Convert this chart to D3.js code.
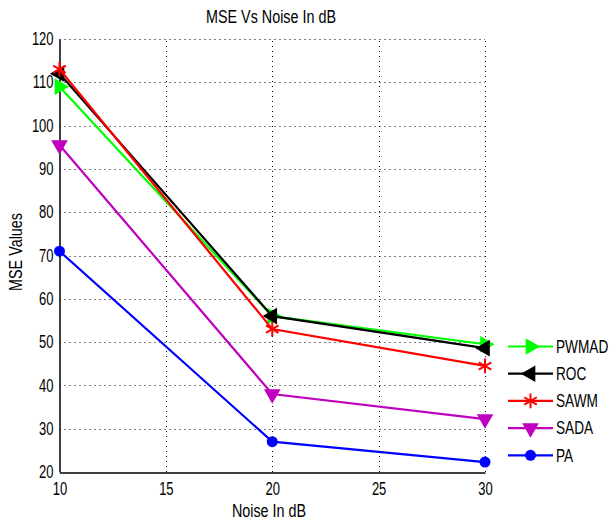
<!DOCTYPE html>
<html>
<head>
<meta charset="utf-8">
<script src="https://cdnjs.cloudflare.com/ajax/libs/d3/7.8.5/d3.min.js"></script>
<style>
  body { margin: 0; background: #fff; }
  text { font-family: "Liberation Sans", Arial, Helvetica, sans-serif; fill: #000; }
</style>
</head>
<body>
<div id="chart"></div>
<script>
// data
const noise = [10, 20, 30];
const pwmad = [109, 56, 49.5];
const roc = [112, 56, 48.6];
const sawm = [113, 53, 44.5];
const sada = [95.5, 38, 32.2];
const pa = [71, 27, 22.3];

const xTicks = [10, 15, 20, 25, 30];
const yTicks = [20, 30, 40, 50, 60, 70, 80, 90, 100, 110, 120];

const series = [
  {name: 'PWMAD', values: pwmad, color: '#00ff00', marker: 'right'},
  {name: 'ROC', values: roc, color: '#000000', marker: 'left'},
  {name: 'SAWM', values: sawm, color: '#ff0000', marker: 'star'},
  {name: 'SADA', values: sada, color: '#bf00bf', marker: 'down'},
  {name: 'PA', values: pa, color: '#0000ff', marker: 'circle'}
];

const W = 614, H = 527;
const m = {left: 59.5, right: 129, top: 39, bottom: 55};

const svg = d3.select('#chart').append('svg')
  .attr('width', W).attr('height', H);

const x = d3.scaleLinear().domain([10, 30]).range([m.left, W - m.right]);
const y = d3.scaleLinear().domain([20, 120]).range([H - m.bottom, m.top]);

// squeeze text horizontally, the original font is a narrow one
function narrow(sel, f) {
  sel.each(function() {
    const w = this.getComputedTextLength();
    d3.select(this).attr('textLength', w * f).attr('lengthAdjust', 'spacingAndGlyphs');
  });
}

// grid
const grid = svg.append('g').attr('class', 'grid')
  .attr('stroke', '#000').attr('stroke-width', 1).attr('stroke-dasharray', '1,4');
grid.selectAll('line.gx').data(xTicks.slice(1)).enter().append('line')
  .attr('x1', d => Math.round(x(d)) + 0.5).attr('x2', d => Math.round(x(d)) + 0.5)
  .attr('y1', y(20)).attr('y2', y(120));
grid.selectAll('line.gy').data(yTicks.slice(1)).enter().append('line')
  .attr('y1', d => Math.round(y(d)) + 0.5).attr('y2', d => Math.round(y(d)) + 0.5)
  .attr('x1', x(10)).attr('x2', x(30));

// axes
const xAxis = svg.append('g')
  .attr('transform', `translate(0,${Math.round(y(20)) + 0.5})`)
  .call(d3.axisBottom(x).tickValues(xTicks).tickSize(0).tickPadding(7));
const yAxis = svg.append('g')
  .attr('transform', `translate(${Math.round(x(10)) - 0.5},0)`)
  .call(d3.axisLeft(y).tickValues(yTicks).tickSize(0).tickPadding(6));
[xAxis, yAxis].forEach(a => {
  a.select('.domain').attr('stroke', '#000').attr('stroke-width', 1.5);
  a.selectAll('text').style('font-size', '17.5px')
    .style('font-family', '"Liberation Sans", Arial, sans-serif');
  narrow(a.selectAll('text'), 0.74);
});
xAxis.selectAll('text').attr('dy', '0.9em');

// markers
function drawMarker(g, type, color) {
  if (type === 'circle') {
    g.append('circle').attr('r', 5.5).attr('fill', color);
  } else if (type === 'star') {
    g.append('path').attr('d', d3.symbol(d3.symbolAsterisk, 150)())
      .attr('fill', 'none').attr('stroke', color).attr('stroke-width', 2);
  } else {
    const rot = {right: 90, left: -90, down: 180}[type];
    g.append('path').attr('d', d3.symbol(d3.symbolTriangle, 120)())
      .attr('transform', `rotate(${rot})`).attr('fill', color);
  }
}

const line = d3.line().x((d, i) => x(noise[i])).y(d => y(d));

series.forEach(s => {
  const g = svg.append('g');
  g.append('path').datum(s.values).attr('d', line)
    .attr('fill', 'none').attr('stroke', s.color).attr('stroke-width', 2.2);
  s.values.forEach((v, i) => {
    drawMarker(g.append('g').attr('transform', `translate(${x(noise[i])},${y(v)})`), s.marker, s.color);
  });
});

// legend
const leg = svg.append('g');
series.forEach((s, i) => {
  const yy = 346.5 + i * 27.2;
  const g = leg.append('g').attr('transform', `translate(0,${yy})`);
  g.append('line').attr('x1', 508).attr('x2', 553).attr('stroke', s.color).attr('stroke-width', 2.2);
  drawMarker(g.append('g').attr('transform', 'translate(530.5,0)'), s.marker, s.color);
  g.append('text').attr('transform', 'translate(556,0) scale(0.78,1)')
    .attr('dy', '0.36em').style('font-size', '17.5px').text(s.name);
});

// titles
svg.append('text').attr('x', 271).attr('y', 23).attr('text-anchor', 'middle')
  .style('font-size', '17.5px').text('MSE Vs Noise In dB').call(narrow, 0.82);
svg.append('text').attr('x', 269).attr('y', 517).attr('text-anchor', 'middle')
  .style('font-size', '17.5px').text('Noise In dB').call(narrow, 0.82);
svg.append('text').attr('transform', `translate(22,${252}) rotate(-90)`).attr('text-anchor', 'middle')
  .style('font-size', '17.5px').text('MSE Values').call(narrow, 0.82);
</script>
</body>
</html>
